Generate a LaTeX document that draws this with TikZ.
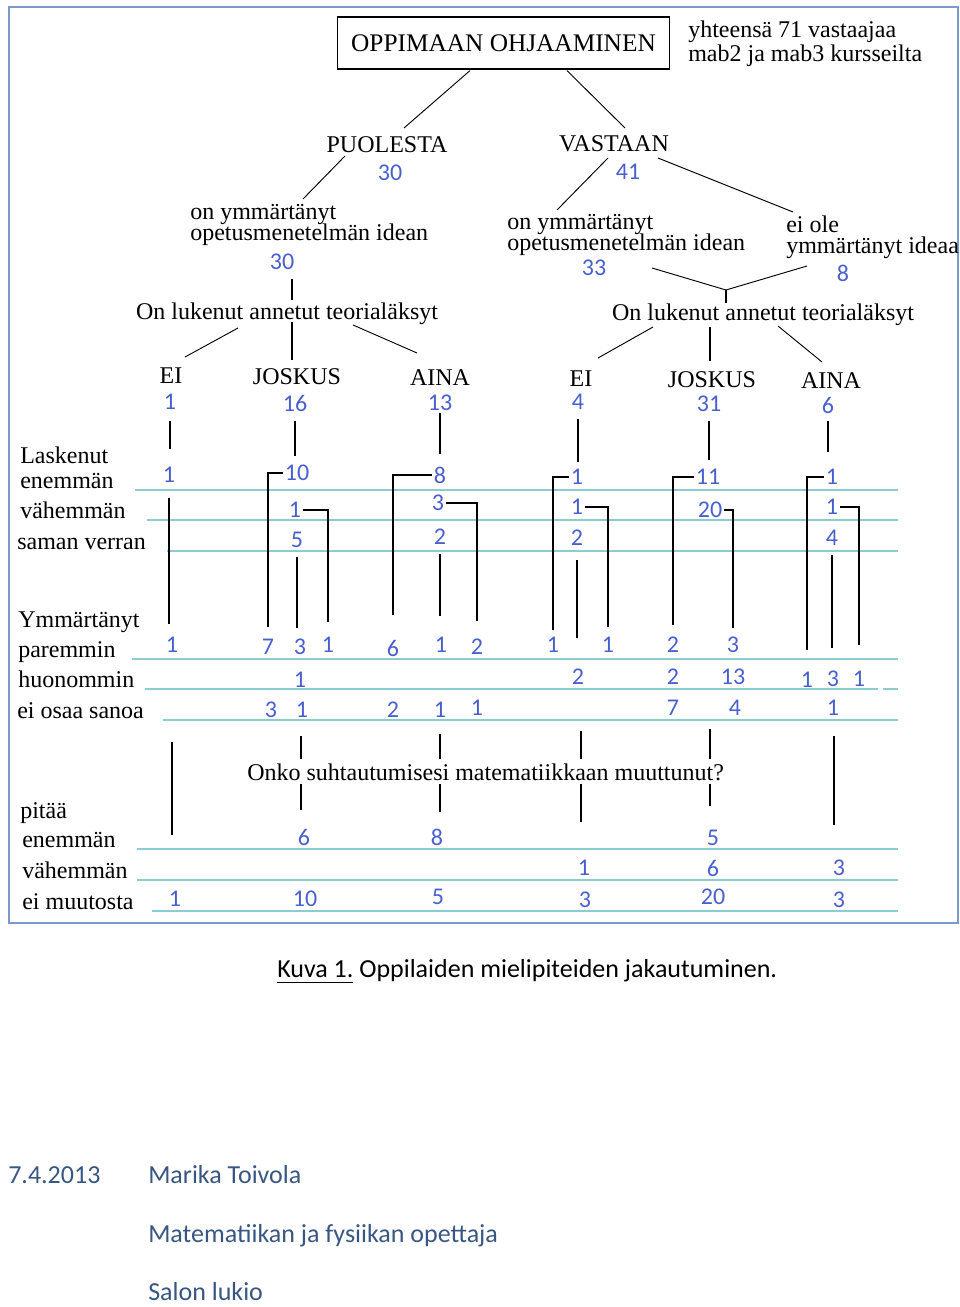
\documentclass[tikz,border=0pt]{standalone}
\usepackage{fontspec}
\setmainfont{Liberation Serif}
\newfontfamily\calibfont{Carlito}
\usetikzlibrary{calc}

\definecolor{numblue}{RGB}{72,96,206}
\definecolor{rowteal}{RGB}{140,204,206}
\definecolor{framblue}{RGB}{122,154,204}
\definecolor{footblue}{RGB}{56,86,130}

\newcommand{\captul}[1]{\setbox0\hbox{#1}\rlap{\rule[-4.5pt]{\wd0}{0.8pt}}\box0\relax}

\tikzset{
  lbl/.style={font=\fontsize{18}{21}\selectfont, inner sep=0pt},
  lbltwo/.style={lbl, align=left, anchor=west, font=\fontsize{18}{16}\selectfont},
  rowlbl/.style={lbl, anchor=base west},
  num/.style={font=\calibfont\fontsize{18}{18}\selectfont, text=numblue, inner sep=1.5pt},
  rowrule/.style={draw=rowteal, line width=1pt},
  branch/.style={line width=0.7pt},
  stemline/.style={line width=1.1pt},
  capt/.style={font=\calibfont\fontsize{19.5}{19.5}\selectfont, anchor=base west, inner sep=0pt},
  footer/.style={capt, text=footblue},
}

\begin{document}
\lineskiplimit=-20pt
\begin{tikzpicture}[x=0.75pt, y=-0.75pt]
\useasboundingbox (0,0) rectangle (960,1307);
\draw[framblue, line width=1.2pt] (9,7) rectangle (958,923);

% top of the tree
\node[draw, line width=0.9pt, minimum width=249pt, minimum height=39pt, inner sep=0pt,
      font=\fontsize{19}{19}\selectfont] (title) at (503.5,43) {OPPIMAAN OHJAAMINEN};
\node[lbl, align=left, anchor=west, font=\fontsize{18}{18}\selectfont] (note) at (688,44)
      {yhteensä 71 vastaajaa\\mab2 ja mab3 kursseilta};

\node[lbl] (puol) at (387,145) {PUOLESTA};
\node[num] (puolN) at (390,173) {30};
\node[lbl] (vast) at (614,144) {VASTAAN};
\node[num] (vastN) at (628,172) {41};

\node[lbltwo] (ymmL) at (190,225) {on ymmärtänyt\\opetusmenetelmän idean};
\node[num] (ymmLN) at (282,262) {30};
\node[lbltwo] (ymmR) at (507,235) {on ymmärtänyt\\opetusmenetelmän idean};
\node[num] (ymmRN) at (594,268) {33};
\node[lbltwo] (eiole) at (786,237) {ei ole\\ymmärtänyt ideaa};
\node[num] (eioleN) at (843,273) {8};

\node[lbl] (lukL) at (287,314) {On lukenut annetut teorialäksyt};
\node[lbl] (lukR) at (763,315) {On lukenut annetut teorialäksyt};
\coordinate (merge) at (726,290);

\foreach \n/\x/\y/\t in {eiL/171/376/EI, josL/297/377/JOSKUS, ainL/440/378/AINA,
                         eiR/581/379/EI, josR/712/380/JOSKUS, ainR/831/381/AINA}
  \node[lbl] (\n) at (\x,\y) {\t};
\foreach \n/\x/\y/\t in {eiLN/170/402/1, josLN/295/403/16, ainLN/440/403/13,
                         eiRN/578/402/4, josRN/709/404/31, ainRN/828/405/6}
  \node[num] (\n) at (\x,\y) {\t};

\draw[branch] ($(title.south)+(-33.5,1)$) -- ($(puol)+(17,-17)$);
\draw[branch] ($(title.south)+(63.5,1)$) -- ($(vast)+(11,-16)$);
\draw[branch] ($(puol)+(-42,11)$) -- ($(ymmL.west)+(113,-26)$);
\draw[stemline] ($(ymmLN)+(10,17)$) -- ($(lukL)+(5,-14)$);
\draw[branch] ($(lukL)+(-49,14)$) -- ($(eiL)+(14,-19)$);
\draw[stemline] ($(lukL)+(5,8)$) -- ($(josL)+(-5,-17)$);
\draw[branch] ($(lukL)+(66,11)$) -- ($(ainL)+(-23,-25)$);
\draw[branch] ($(vast)+(-6,14)$) -- ($(ymmR.west)+(50,-25)$);
\draw[branch] ($(vast)+(44,14)$) -- ($(eiole.west)+(7,-25)$);
\draw[branch] ($(ymmRN)+(58,0)$) -- (merge);
\draw[branch] ($(eioleN)+(-36,-7)$) -- (merge);
\draw[stemline] (merge) -- ($(lukR)+(-37,-12)$);
\draw[branch] ($(lukR)+(-110,12)$) -- ($(eiR)+(17,-21)$);
\draw[stemline] ($(lukR)+(-53,12)$) -- ($(josR)+(-2,-19)$);
\draw[branch] ($(lukR)+(15,11)$) -- ($(ainR)+(-9,-19)$);

% row labels and rules
\node[rowlbl] (laskA) at (20,463) {Laskenut};
\node[rowlbl] (enemA) at (20,488) {enemmän};
\node[rowlbl] (vahemA) at (20,518) {vähemmän};
\node[rowlbl] (samanA) at (17,549) {saman verran};
\node[rowlbl] (ymmB) at (18,627) {Ymmärtänyt};
\node[rowlbl] (parB) at (18,657) {paremmin};
\node[rowlbl] (huoB) at (18,687) {huonommin};
\node[rowlbl] (eiosB) at (17,718) {ei osaa sanoa};
\node[rowlbl] (pitC) at (20,818) {pitää};
\node[rowlbl] (enemC) at (22,847) {enemmän};
\node[rowlbl] (vahemC) at (22,878) {vähemmän};
\node[rowlbl] (eimuC) at (22,909) {ei muutosta};

\foreach \y/\xa in {490/135, 520/147, 551/167, 659/132, 720/163, 849/137, 880/137, 911/152}
  \draw[rowrule] (\xa,\y) -- (898,\y);
\draw[rowrule] (145,689) -- (878,689);
\draw[rowrule] (883,689) -- (898,689);

% counts
\foreach \n/\x/\y/\t in {E1/169/475/1, E2/297/473/10, E3/440/475/8, E4/577/477/1, E5/708/477/11, E6/832/477/1,
                         V2/295/510/1, V3/438/503/3, V4/577/507/1, V5/710/510/20, V6/832/507/1,
                         S2/297/540/5, S3/440/537/2, S4/577/538/2, S6/832/538/4}
  \node[num] (\n) at (\x,\y) {\t};
\foreach \n/\x/\y/\t in {P1/172/645/1, P2a/268/647/7, P2b/300/647/3, P2c/328/645/1,
                         P3a/393/648/6, P3b/441/645/1, P3c/477/647/2, P4a/553/645/1,
                         P4c/608/645/1, P5a/673/645/2, P5c/733/645/3,
                         H2b/300/680/1, H4b/578/677/2, H5a/673/677/2, H5c/733/677/13,
                         H6a/807/680/1, H6b/833/679/3, H6c/859/679/1,
                         O2a/271/710/3, O2b/302/710/1, O3a/393/710/2, O3b/440/710/1,
                         O3c/477/708/1, O5a/673/708/7, O5c/735/708/4, O6b/833/708/1}
  \node[num] (\n) at (\x,\y) {\t};
\foreach \n/\x/\y/\t in {M2/304/837/6, M3/437/837/8, M5/713/838/5,
                         W4/584/868/1, W5/713/868/6, W6/839/868/3,
                         N1/175/899/1, N2/305/899/10, N3/438/897/5, N4/585/900/3, N5/713/897/20, N6/839/900/3}
  \node[num] (\n) at (\x,\y) {\t};

\foreach \a/\b/\sa/\sb in {eiLN/E1/7/12, josLN/E2/5.5/5, ainLN/E3/0/8,
                           eiRN/E4/5.5/4, josRN/E5/5.5/5.5, ainRN/E6/4/11}
  \draw[stemline, shorten <=\sa pt, shorten >=\sb pt] (\a.south) -- (\a |- \b.north);
\foreach \a/\b/\s in {E2/P2a/7.5, E3/P3a/17, E4/P4a/4, E5/P5a/7.5, E6/H6a/15}
  \draw[stemline, shorten >=\s pt] (\a.west) -| (\b.north);
\foreach \a/\b/\s in {V2/P2c/10, V3/P3c/12, V4/P4c/6, V5/P5c/5, V6/H6c/18}
  \draw[stemline, shorten >=\s pt] (\a.east) -| (\b.north);
\foreach \a/\b/\sa/\sb in {E1/P1/10/8, S2/P2b/5/7, S3/P3b/5/14, S4/H4b/9/22, S6/H6b/5/16}
  \draw[stemline, shorten <=\sa pt, shorten >=\sb pt] (\a.south) -- (\a |- \b.north);

% second question
\foreach \n/\x/\a/\b in {1/172/742/835, 2/301/736/810, 3/440/734/812,
                         4/581/731/822, 5/710/729/806, 6/834/736/825}{
  \coordinate (dt\n) at (\x,\a);
  \coordinate (db\n) at (\x,\b);
  \draw[stemline] (dt\n) -- (db\n);
}
\node[lbl, fill=white, inner ysep=3pt, anchor=base west] (quest) at (247,780)
      {Onko suhtautumisesi matematiikkaan muuttunut?};

% caption and footer
\node[capt] (kuva) at (277,977) {\captul{Kuva 1.} Oppilaiden mielipiteiden jakautuminen.};
\node[footer] (date) at (8,1183) {7.4.2013};
\node[footer] (author) at (148,1183) {Marika Toivola};
\node[footer] (role) at (148,1242) {Matematiikan ja fysiikan opettaja};
\node[footer] (school) at (148,1300) {Salon lukio};
\end{tikzpicture}
\end{document}
